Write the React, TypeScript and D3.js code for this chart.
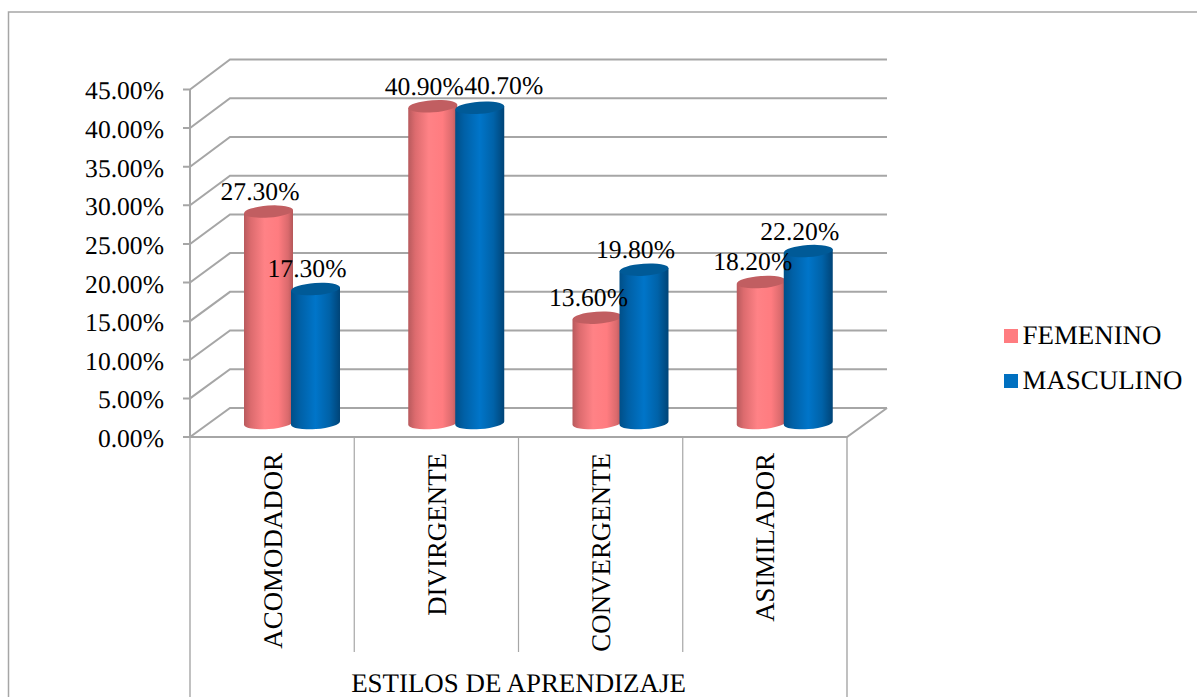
import React from "react";
import * as d3 from "d3";

const categories = ["ACOMODADOR", "DIVIRGENTE", "CONVERGENTE", "ASIMILADOR"];
const seriesNames = ["FEMENINO", "MASCULINO"];
const femenino = [27.3, 40.9, 13.6, 18.2];
const masculino = [17.3, 40.7, 19.8, 22.2];
const yTicks = [0, 5, 10, 15, 20, 25, 30, 35, 40, 45];
const axisTitle = "ESTILOS DE APRENDIZAJE";

const W = 1197, H = 697;
const FONT = "'Liberation Serif','Times New Roman',serif";
const FS = 25.6;
const FS_CAPS = 26.9;
const GRID = "#A6A6A6";
const DX = 40; // depth of the 3D box
const X0 = 190, X1 = 847;

const yFront = d3.scaleLinear().domain([0, 45]).range([437, 89.5]);
const yBack = d3.scaleLinear().domain([0, 45]).range([408, 59.5]);
const yBar = d3.scaleLinear().domain([0, 45]).range([423, 74.5]);
const xCat = d3.scaleBand<string>().domain(categories).range([X0, X1]);
const xSer = d3.scaleBand<string>().domain(seriesNames).range([54, 148]);

const RX = 24.5, RY = 6, TILT = -4;
const LIFT = RX * Math.tan((-TILT * Math.PI) / 180);

const pinkStops: [number, string][] = [[0, "#B85A5D"], [0.14, "#DC6B6E"], [0.42, "#FF8286"], [0.7, "#FF7C80"], [0.9, "#DA6A6D"], [1, "#B45759"]];
const blueStops: [number, string][] = [[0, "#004F88"], [0.18, "#0060A6"], [0.5, "#0075C9"], [0.78, "#0062A8"], [1, "#004477"]];
const topFill = ["#C15E61", "#005A97"];
const swatch = ["#FF7C80", "#0070C0"];
const rows = [femenino, masculino];

export default function App() {
  return (
    <svg width={W} height={H} viewBox={`0 0 ${W} ${H}`}
      style={{ position: "absolute", left: 0, top: 0, display: "block", background: "#fff" }}
      fontFamily={FONT} fontSize={FS} fill="#000" textRendering="geometricPrecision">
      <defs>
        {[pinkStops, blueStops].map((stops, i) => (
          <linearGradient key={i} id={`cyl${i}`} x1="0" x2="1" y1="0" y2="0">
            {stops.map(([o, c]) => <stop key={o} offset={o} stopColor={c} />)}
          </linearGradient>
        ))}
      </defs>

      {/* outer frame */}
      <path d={`M8.5 ${H}V12H${W}`} fill="none" stroke={GRID} strokeWidth={1.5} />

      {/* wall and floor */}
      {yTicks.map(t => (
        <g key={t} fill="none" stroke={GRID} strokeWidth={2}>
          <path d={`M${X0 - 7} ${yFront(t)}H${X0}L${X0 + DX} ${yBack(t)}H${X1 + DX}`} />
        </g>
      ))}
      <path d={`M${X0} ${yFront(45)}V${yFront(0)}H${X1}L${X1 + DX} ${yBack(0)}`} fill="none" stroke={GRID} strokeWidth={2} />

      {/* category separators */}
      {categories.slice(1).map(c => (
        <line key={c} x1={xCat(c)} x2={xCat(c)} y1={437} y2={652} stroke={GRID} strokeWidth={1.2} />
      ))}
      {[X0, X1].map(x => <line key={x} x1={x} x2={x} y1={437} y2={H} stroke={GRID} strokeWidth={1.4} />)}

      {/* y tick labels */}
      {yTicks.map(t => (
        <text key={t} x={164} y={yFront(t) + 1.5} dy="0.33em" textAnchor="end">{t.toFixed(2)}%</text>
      ))}

      {/* cylinders */}
      {categories.map((c, ci) => (
        <g key={c}>
          {seriesNames.map((s, si) => {
            const x = (xCat(c) as number) + (xSer(s) as number);
            const v = rows[si][ci];
            const yt = yBar(v), yb = yBar(0);
            const w = RX * 2;
            const body = `M${x} ${yt + LIFT}V${yb + LIFT}A${RX} ${RY} ${TILT} 0 0 ${x + w} ${yb - LIFT}V${yt - LIFT}Z`;
            return (
              <g key={s}>
                <path d={body} fill={`url(#cyl${si})`} />
                <ellipse cx={x + RX} cy={yt} rx={RX} ry={RY} fill={topFill[si]}
                  transform={`rotate(${TILT} ${x + RX} ${yt})`} />
              </g>
            );
          })}
        </g>
      ))}

      {/* data labels */}
      {categories.map((c, ci) => seriesNames.map((s, si) => {
        const x = (xCat(c) as number) + (xSer(s) as number) + RX;
        const v = rows[si][ci];
        const shifted = si === 1 && ci === 1;
        return (
          <text key={s + c} x={x + (shifted ? 24 : -8.5)} y={yBar(v) - (shifted ? 22 : 20)} dy="0.33em" textAnchor="middle">
            {v.toFixed(2)}%
          </text>
        );
      }))}

      {/* category labels */}
      {categories.map(c => {
        const cx = (xCat(c) as number) + xCat.bandwidth() / 2;
        return (
          <text key={c} textAnchor="end" fontSize={FS_CAPS} transform={`translate(${cx + 9.5} 453) rotate(-90)`}>{c}</text>
        );
      })}

      <text x={518.5} y={692} textAnchor="middle" fontSize={FS_CAPS}>{axisTitle}</text>

      {/* legend */}
      {seriesNames.map((s, i) => (
        <g key={s}>
          <rect x={1004} y={329 + i * 45} width={14} height={14} fill={swatch[i]} />
          <text x={1022.5} y={344 + i * 44.5} fontSize={FS_CAPS}>{s}</text>
        </g>
      ))}
    </svg>
  );
}
